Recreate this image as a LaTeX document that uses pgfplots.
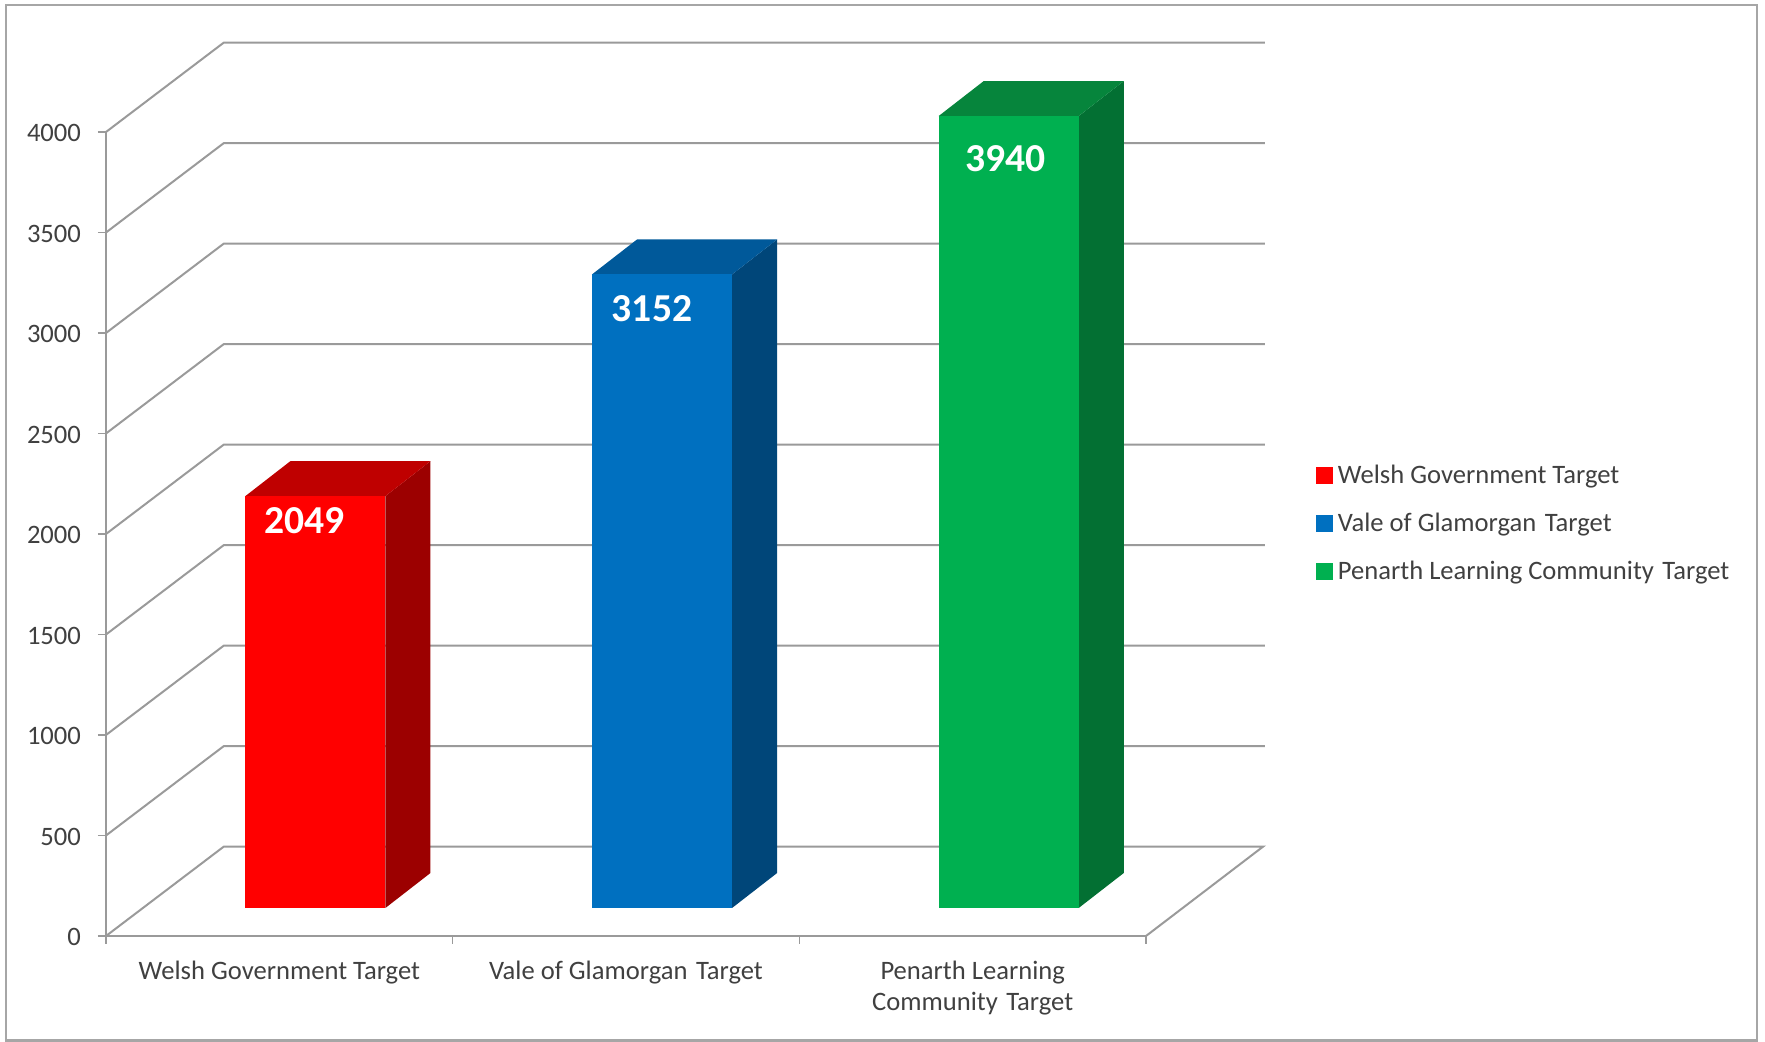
\documentclass[border=0pt]{standalone}
\usepackage{fontspec}
\setmainfont{Carlito}
\usepackage{pgfplots}
\pgfplotsset{compat=1.18}
\definecolor{gridc}{HTML}{9A9A9A}
\definecolor{framec}{HTML}{A6A6A6}
\definecolor{textc}{HTML}{404040}
\definecolor{redF}{HTML}{FF0000}\definecolor{redT}{HTML}{BF0000}\definecolor{redS}{HTML}{9C0000}
\definecolor{bluF}{HTML}{0070C0}\definecolor{bluT}{HTML}{00599A}\definecolor{bluS}{HTML}{004679}
\definecolor{greF}{HTML}{00B050}\definecolor{greT}{HTML}{06853C}\definecolor{greS}{HTML}{037033}
\newcommand{\dsp}{\hspace{0.32em}}
\begin{document}
\begin{tikzpicture}[x=0.5pt,y=0.5pt]
% page bounds and outer frame, in reference pixels relative to the axis origin (106,936)
\path[use as bounding box] (-106,-106) rectangle (1659,936);
\draw[framec,line width=1.2pt] (-100,-104.5) rectangle (1651,931);
\begin{axis}[
  at={(0pt,0pt)},anchor=south west,
  scale only axis,width=520pt,height=402pt,
  xmin=0,xmax=3,ymin=0,ymax=4000,
  clip=false,
  axis lines=left,
  axis line style={gridc,line width=1pt,-},
  tick align=outside,
  tick style={gridc,line width=0.8pt},
  major tick length=4pt,
  ytick={0,500,1000,1500,2000,2500,3000,3500,4000},
  xtick={0,1,2,3},
  xticklabels={,,,},
  extra x ticks={0.5,1.5,2.5},
  extra x tick labels={Welsh Government Target,Vale of Glamorgan\dsp Target,{Penarth Learning\\Community\dsp Target}},
  extra x tick style={major tick length=0pt,tick style={draw=none}},
  x tick label style={font=\fontsize{13.3}{15.5}\selectfont,text=textc,align=center,anchor=north,yshift=-9pt},
  y tick label style={font=\fontsize{13.3}{15.5}\selectfont,text=textc,xshift=-5pt,yshift=-0.5pt},
  /pgf/number format/assume math mode=true,
  /pgf/number format/set thousands separator={},
]
\addplot[gridc,line width=1pt] coordinates {(0,0)(0.34,445)(3.338,445)(3,0)};
\addplot[gridc,line width=1pt] coordinates {(0,500)(0.34,945)(3.343,945)};
\addplot[gridc,line width=1pt] coordinates {(0,1000)(0.34,1445)(3.343,1445)};
\addplot[gridc,line width=1pt] coordinates {(0,1500)(0.34,1945)(3.343,1945)};
\addplot[gridc,line width=1pt] coordinates {(0,2000)(0.34,2445)(3.343,2445)};
\addplot[gridc,line width=1pt] coordinates {(0,2500)(0.34,2945)(3.343,2945)};
\addplot[gridc,line width=1pt] coordinates {(0,3000)(0.34,3445)(3.343,3445)};
\addplot[gridc,line width=1pt] coordinates {(0,3500)(0.34,3945)(3.343,3945)};
\addplot[gridc,line width=1pt] coordinates {(0,4000)(0.34,4445)(3.343,4445)};
\end{axis}
\begin{axis}[
  at={(18pt,14pt)},anchor=south west,
  scale only axis,width=520pt,height=402pt,
  xmin=0,xmax=3,ymin=0,ymax=4000,
  clip=false,
  axis lines=none,
  /pgf/number format/assume math mode=true,
  /pgf/number format/set thousands separator={},
  legend style={at={(1.128,0.478)},anchor=west,draw=none,fill=none,inner sep=0pt,
    font=\fontsize{13.3}{15.5}\selectfont,text=textc,row sep=13.2pt,
    nodes={inner sep=0pt}},
  legend cell align=left,
]
% side faces
\addplot[fill=redS,draw=none,forget plot] coordinates {(0.702,0)(0.832,174)(0.832,2223)(0.702,2049)} -- cycle;
\addplot[fill=bluS,draw=none,forget plot] coordinates {(1.702,0)(1.832,174)(1.832,3326)(1.702,3152)} -- cycle;
\addplot[fill=greS,draw=none,forget plot] coordinates {(2.702,0)(2.832,174)(2.832,4114)(2.702,3940)} -- cycle;
% top faces
\addplot[fill=redT,draw=none,forget plot] coordinates {(0.298,2049)(0.702,2049)(0.832,2223)(0.428,2223)} -- cycle;
\addplot[fill=bluT,draw=none,forget plot] coordinates {(1.298,3152)(1.702,3152)(1.832,3326)(1.428,3326)} -- cycle;
\addplot[fill=greT,draw=none,forget plot] coordinates {(2.298,3940)(2.702,3940)(2.832,4114)(2.428,4114)} -- cycle;
% front faces, with values
\pgfplotsset{every node near coord/.append style={text=white,font=\fontsize{19.8}{22}\bfseries\selectfont,anchor=center}}
\addplot[ybar,bar width=70pt,fill=redF,draw=none,forget plot,nodes near coords,
  every node near coord/.append style={xshift=-5.5pt,yshift=-12.5pt}] coordinates {(0.5,2049)};
\addplot[ybar,bar width=70pt,fill=bluF,draw=none,forget plot,nodes near coords,
  every node near coord/.append style={xshift=-5pt,yshift=-17pt}] coordinates {(1.5,3152)};
\addplot[ybar,bar width=70pt,fill=greF,draw=none,forget plot,nodes near coords,
  every node near coord/.append style={xshift=-1.5pt,yshift=-21.5pt}] coordinates {(2.5,3940)};
\addlegendimage{legend image code/.code={\fill[redF] (0pt,-4pt) rectangle (8pt,4pt);\path[draw=none,fill=none] (0pt,0pt) -- (11pt,0pt);}}
\addlegendentry{Welsh Government Target}
\addlegendimage{legend image code/.code={\fill[bluF] (0pt,-4pt) rectangle (8pt,4pt);\path[draw=none,fill=none] (0pt,0pt) -- (11pt,0pt);}}
\addlegendentry{Vale of Glamorgan\dsp Target}
\addlegendimage{legend image code/.code={\fill[greF] (0pt,-4pt) rectangle (8pt,4pt);\path[draw=none,fill=none] (0pt,0pt) -- (11pt,0pt);}}
\addlegendentry{Penarth Learning Community\dsp Target}
\end{axis}
\end{tikzpicture}
\end{document}
